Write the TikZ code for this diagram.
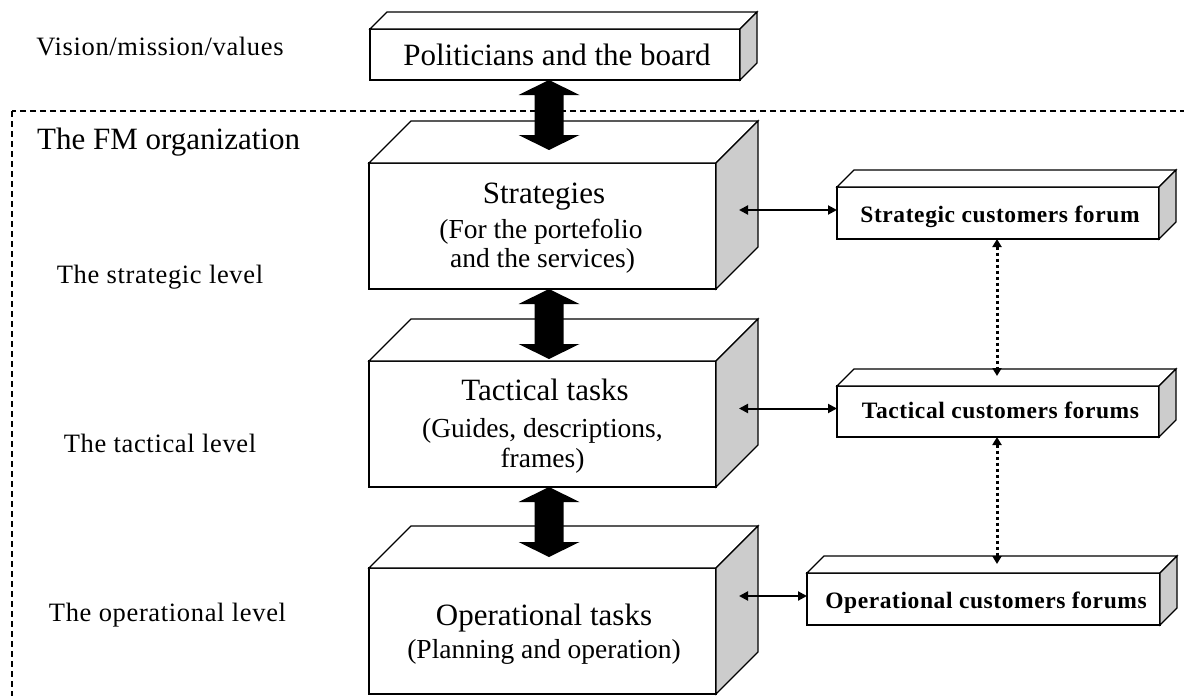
\documentclass[tikz,border=0pt]{standalone}
\usepackage{fontspec}
\setmainfont{Liberation Serif}
\newfontfamily\spacedserif[LetterSpace=2.5]{Liberation Serif}
\usetikzlibrary{calc,arrows.meta}
\definecolor{sidegray}{RGB}{204,204,204}
\tikzset{
  face/.style={draw, fill=white, line width=1.2pt, inner sep=0pt, outer sep=0pt},
  bigface/.style={face, minimum width=347pt, minimum height=126pt},
  lbl/.style={inner sep=0pt, anchor=base, font=\spacedserif\fontsize{26.5}{30}\selectfont},
  maintxt/.style={inner sep=0pt, anchor=base, font=\fontsize{31}{34}\selectfont},
  subtxt/.style={inner sep=0pt, anchor=base, font=\fontsize{27.5}{30}\selectfont},
  forumtxt/.style={inner sep=0pt, anchor=base, font=\spacedserif\bfseries\fontsize{23.5}{26}\selectfont},
  sideface/.style={draw, fill=sidegray, line width=1.2pt, line join=miter},
  topface/.style={draw, fill=white, line width=1.2pt, line join=miter},
  thinarrow/.style={{Triangle[length=9pt,width=9pt]}-{Triangle[length=9pt,width=9pt]}, line width=2pt},
  dotarrow/.style={{Triangle[length=8pt,width=9pt]}-{Triangle[length=8pt,width=9pt]}, line width=3pt, dash pattern=on 3pt off 3pt},
  orgframe/.style={draw, line width=1.1pt, dash pattern=on 6pt off 4pt},
  blockarrow/.style={fill=black}
}
\newcommand{\cuboid}[2]{%
  \draw[topface] (#1.north west) -- ++(#2,-#2) -- ($(#1.north east)+(#2,-#2)$) -- (#1.north east) -- cycle;
  \draw[sideface] (#1.north east) -- ++(#2,-#2) -- ($(#1.south east)+(#2,-#2)$) -- (#1.south east) -- cycle;}
\newcommand{\blockarr}[1]{%
  \fill[blockarrow] #1 -- ++(30.5,15) -- ++(-16,0) -- ++(0,40) -- ++(16,0) -- ++(-30.5,15)
    -- ++(-30.5,-15) -- ++(16,0) -- ++(0,-40) -- ++(-16,0) -- cycle;}
\begin{document}
\begin{tikzpicture}[x=1pt,y=-1pt]
\useasboundingbox (0,0) rectangle (1184,696);
\clip (0,0) rectangle (1184,696);
% organisation frame
\draw[orgframe] (12,111) rectangle (1200,710);
% big boxes
\node[face, minimum width=370pt, minimum height=51pt] (pol) at (555,54.5) {};
\cuboid{pol}{17}
\node[bigface] (st) at (542.5,226) {};
\cuboid{st}{42}
\node[bigface] (ta) at (542.5,424) {};
\cuboid{ta}{42}
\node[bigface] (op) at (542.5,631) {};
\cuboid{op}{42}
% forum boxes
\node[face, minimum width=322pt, minimum height=52pt] (sf) at (998,213) {};
\cuboid{sf}{17}
\node[face, minimum width=322pt, minimum height=51pt] (tf) at (998,411.5) {};
\cuboid{tf}{17}
\node[face, minimum width=353pt, minimum height=52pt] (of) at (983.5,599) {};
\cuboid{of}{17}
% block arrows
\coordinate (ax) at (549,0);
\blockarr{(ax |- pol.south)}
\blockarr{(ax |- st.south)}
\blockarr{(ax |- ta.south)}
% thin arrows
\coordinate (hx) at (739,0);
\draw[thinarrow] ($(sf.west)+(0,-3)$) -- ($(sf.west -| hx)+(0,-3)$);
\draw[thinarrow] ($(tf.west)+(0,-3)$) -- ($(tf.west -| hx)+(0,-3)$);
\draw[thinarrow] ($(of.west)+(0,-3)$) -- ($(of.west -| hx)+(0,-3)$);
% dotted arrows
\coordinate (dx) at (997,0);
\draw[dotarrow] (dx |- sf.south) -- ($(dx |- tf.north)+(0,-10)$);
\draw[dotarrow] (dx |- tf.south) -- ($(dx |- of.north)+(0,-9)$);
% texts in boxes
\node[maintxt] (polT) at (557,65) {Politicians and the board};
\node[maintxt] (stT1) at (544,203) {Strategies};
\node[subtxt] (stT2) at (541,238) {(For the portefolio};
\node[subtxt] (stT3) at (542.5,267) {and the services)};
\node[maintxt] (taT1) at (545,400) {Tactical tasks};
\node[subtxt] (taT2) at (542.5,437) {(Guides, descriptions,};
\node[subtxt] (taT3) at (542.5,467) {frames)};
\node[maintxt] (opT1) at (544,625) {Operational tasks};
\node[subtxt] (opT2) at (544,658) {(Planning and operation)};
\node[forumtxt] (sfT) at (1000,222) {Strategic customers forum};
\node[forumtxt] (tfT) at (1000.5,418) {Tactical customers forums};
\node[forumtxt] (ofT) at (986,608) {Operational customers forums};
% left labels
\node[lbl] (vis) at (160,55) {Vision/mission/values};
\node[inner sep=0pt, anchor=base west, font=\fontsize{31}{34}\selectfont] (fm) at (37,149) {The FM organization};
\node[lbl] (lv1) at (160,283) {The strategic level};
\node[lbl] (lv2) at (160,452) {The tactical level};
\node[lbl] (lv3) at (167.5,621) {The operational level};
\end{tikzpicture}
\end{document}
